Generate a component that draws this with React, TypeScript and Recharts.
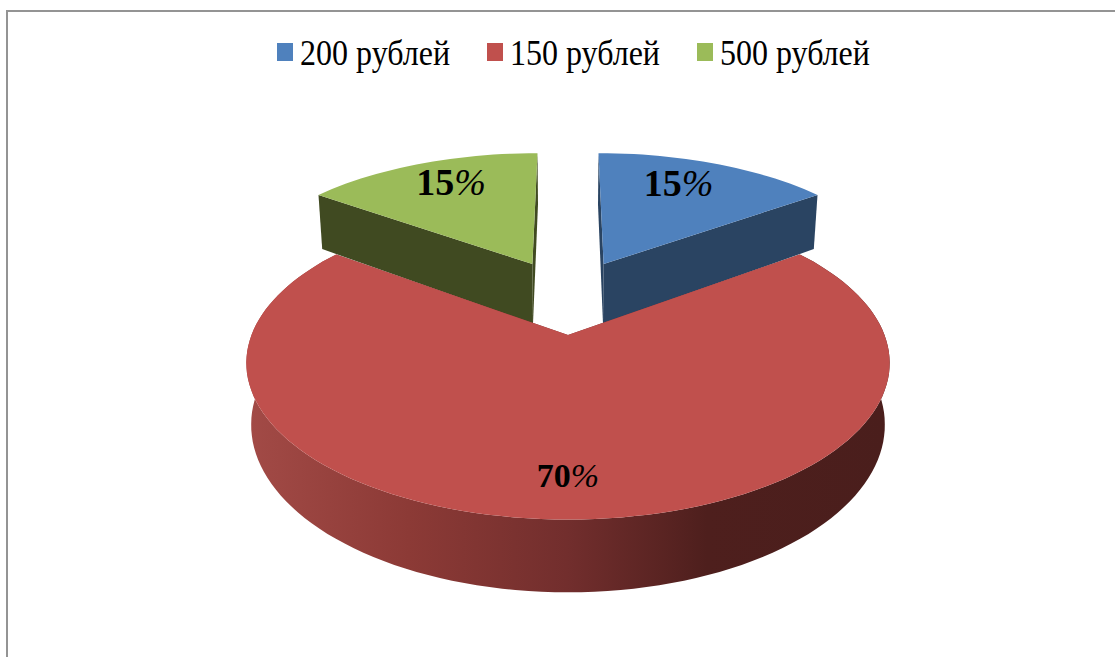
import React from 'react'
import { PieChart, Pie, Legend } from 'recharts'

const categories = ['200 рублей', '150 рублей', '500 рублей']
const shares = [15, 70, 15]
const topColors = ['#4f81bd', '#c0504d', '#9bbb59']
const sideColors = ['#2a4462', 'url(#redWall)', '#404a21']

const chartData = categories.map((name, i) => ({ name, value: shares[i], fill: topColors[i] }))

// perspective settings for the fake 3d look
const SQUASH = 0.457
const PERSPECTIVE = 0.17
const EXPLODE = 0.27
const DEPTH = 0.189
const BACK_DEPTH = 0.205
const BACK_SCALE = 1.015
const BOTTOM_SHRINK = 0.985
const RAD = Math.PI / 180

type Pt = [number, number]

function makeProject(cx: number, cy: number, r: number, midDeg: number, depth: number) {
  // a = clockwise from the top, disc coordinates then projected to the screen
  const offU = Math.sin(midDeg * RAD) * EXPLODE
  const offV = Math.cos(midDeg * RAD) * EXPLODE
  return (aDeg: number | null, scale: number, low: boolean): Pt => {
    const u = (aDeg === null ? 0 : Math.sin(aDeg * RAD) * scale) + offU
    const v = (aDeg === null ? 0 : Math.cos(aDeg * RAD) * scale) + offV
    const w = 1 + PERSPECTIVE * v
    const x = (r * u) / w
    const y = (-r * SQUASH * v) / w
    if (low) return [cx + x * BOTTOM_SHRINK, cy + y + (r * depth) / w]
    return [cx + x, cy + y]
  }
}

const toPath = (pts: Pt[]) =>
  'M' + pts.map((p) => p[0].toFixed(1) + ' ' + p[1].toFixed(1)).join('L') + 'Z'

function Sector3D(props: any) {
  const { cx, cy, outerRadius, startAngle, endAngle, fill, index } = props
  const a0 = 90 - startAngle
  const a1 = 90 - endAngle
  const mid = (a0 + a1) / 2
  const project = makeProject(cx, cy, outerRadius, mid, index === 1 ? DEPTH : BACK_DEPTH)
  const s = index === 1 ? 1 : BACK_SCALE
  const rim: number[] = []
  for (let a = a0; a < a1; a += 2) rim.push(a)
  rim.push(a1)

  const top = [project(null, 1, false), ...rim.map((a) => project(a, s, false))]
  const side = sideColors[index]
  const wall = [
    ...rim.map((a) => project(a, s, false)),
    ...rim.slice().reverse().map((a) => project(a, s, true)),
  ]
  const cutA = [project(null, 1, false), project(a0, s, false), project(a0, s, true), project(null, 1, true)]
  const cutB = [project(null, 1, false), project(a1, s, false), project(a1, s, true), project(null, 1, true)]

  return (
    <g>
      <path d={toPath(cutA)} fill={index === 1 ? '#7a2f2e' : side} />
      <path d={toPath(cutB)} fill={index === 1 ? '#7a2f2e' : side} />
      {index === 1 && <path d={toPath(wall)} fill={side} />}
      <path d={toPath(top)} fill={fill} />
    </g>
  )
}

// the red slice has to sit above the other two, so each Pie only draws its own part
const BackSector = (props: any) => (props.index === 1 ? <g /> : <Sector3D {...props} />)
const FrontSector = (props: any) => (props.index === 1 ? <Sector3D {...props} /> : <g />)

// label spots, in disc radius units from each slice's own tip
const labelReach = [0.774, 0.793, 0.79]
const labelTurn = [-4, 0, 2.5]

function SliceLabel(props: any) {
  const { cx, cy, outerRadius, startAngle, endAngle, index, value } = props
  const mid = 90 - (startAngle + endAngle) / 2
  const project = makeProject(cx, cy, outerRadius, mid, DEPTH)
  const [x, y] = project(mid + labelTurn[index], labelReach[index], false)
  return (
    <text
      x={x}
      y={y}
      textAnchor="middle"
      dominantBaseline="central"
      fontFamily="'Liberation Serif', serif"
      fontSize={index === 1 ? 34 : 38}
      fontWeight="bold"
      fill="#000"
    >
      {value}
      <tspan fontStyle="italic" fontWeight="normal">%</tspan>
    </text>
  )
}

function LegendRow() {
  return (
    <div style={{ display: 'flex', justifyContent: 'center', paddingLeft: 32, fontFamily: "'Liberation Serif', serif", fontSize: 32, color: '#000' }}>
      {categories.map((name, i) => (
        <div key={name} style={{ display: 'flex', alignItems: 'center', marginLeft: i === 0 ? 0 : 37 }}>
          <span style={{ width: 16, height: 18, background: topColors[i], marginRight: 7 }} />
          <span style={{ display: 'inline-block', transform: 'scaleY(1.15)', lineHeight: '36px' }}>{name}</span>
        </div>
      ))}
    </div>
  )
}

export default function App() {
  return (
    <div style={{ position: 'absolute', left: 0, top: 0, width: 1115, height: 657, overflow: 'hidden', background: '#fff' }}>
      <div
        style={{
          position: 'absolute',
          left: 6,
          top: 10,
          width: 1120,
          height: 660,
          borderLeft: '2px solid #949494',
          borderTop: '2px solid #949494',
        }}
      />
      <div style={{ position: 'absolute', left: 0, top: 0 }}>
        <PieChart width={1115} height={657} margin={{ top: 0, right: 0, bottom: 0, left: 0 }}>
          <defs>
            <linearGradient id="redWall" gradientUnits="userSpaceOnUse" x1="250" y1="0" x2="885" y2="0">
              <stop offset="0" stopColor="#a24a46" />
              <stop offset="0.25" stopColor="#8c3a36" />
              <stop offset="0.5" stopColor="#722e2d" />
              <stop offset="0.72" stopColor="#4e1f1d" />
              <stop offset="1" stopColor="#4a1e1c" />
            </linearGradient>
          </defs>
          <Legend
            verticalAlign="middle"
            align="center"
            content={LegendRow}
            wrapperStyle={{ top: 34, left: 0, width: 1115 }}
          />
          <Pie
            data={chartData}
            dataKey="value"
            cx={568}
            cy={296}
            outerRadius={302}
            startAngle={90}
            endAngle={-270}
            stroke="none"
            shape={BackSector}
            isAnimationActive={false}
          />
          <Pie
            data={chartData}
            dataKey="value"
            cx={568}
            cy={296}
            outerRadius={302}
            startAngle={90}
            endAngle={-270}
            stroke="none"
            labelLine={false}
            label={SliceLabel}
            shape={FrontSector}
            isAnimationActive={false}
          />
        </PieChart>
      </div>
    </div>
  )
}
